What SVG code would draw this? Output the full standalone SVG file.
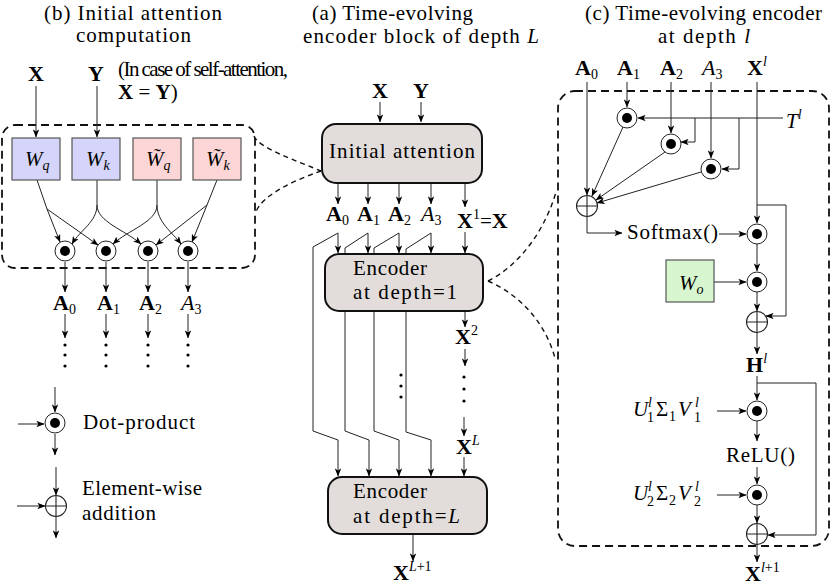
<svg xmlns="http://www.w3.org/2000/svg" width="831" height="586" viewBox="0 0 831 586">
<style>
text{font-family:"Liberation Serif","Times New Roman",serif;fill:#000;font-size:21px}
.bf{font-weight:bold;font-size:22px}
.it{font-style:italic}
.sm{font-size:14px}
.ln{fill:none;stroke:#222;stroke-width:1}
.ar{marker-end:url(#ah)}
.dash{fill:none;stroke:#111;stroke-width:1.8;stroke-dasharray:8 5}
.dcurve{fill:none;stroke:#111;stroke-width:1.4;stroke-dasharray:5 4}
.blk{fill:#e2dddb;stroke:#111;stroke-width:2}
.wbox{stroke:#555;stroke-width:1.2}
</style>
<defs>
<marker id="ah" viewBox="0 0 10 8" refX="9.5" refY="4" markerWidth="8" markerHeight="6.4" markerUnits="userSpaceOnUse" orient="auto"><path d="M0,0 L10,4 L0,8 L2.5,4 z" fill="#000"/></marker>
<g id="dot"><circle r="10" fill="#fff" stroke="#222" stroke-width="1"/><circle r="5" fill="#000"/></g>
<g id="plus"><circle r="10.5" fill="#fff" stroke="#222" stroke-width="1.1"/><path d="M-10.5,0 H10.5 M0,-10.5 V10.5" stroke="#222" stroke-width="1.1"/></g>
</defs>
<rect width="831" height="586" fill="#fff"/>

<!-- titles -->
<g id="titles">
<text x="44" y="20" textLength="178" lengthAdjust="spacing">(b) Initial attention</text>
<text x="76" y="42" textLength="115" lengthAdjust="spacing">computation</text>
<text x="312" y="20" textLength="161" lengthAdjust="spacing">(a) Time-evolving</text>
<text x="303" y="43" textLength="236" lengthAdjust="spacing">encoder block of depth <tspan class="it">L</tspan></text>
<text x="585" y="20" textLength="237" lengthAdjust="spacing">(c) Time-evolving encoder</text>
<text x="658" y="43" textLength="92" lengthAdjust="spacing">at depth <tspan class="it">l</tspan></text>
</g>

<!-- dashed frames and zoom curves -->
<g id="frames">
<rect x="2" y="125" width="253" height="143" rx="13" class="dash"/>
<rect x="558" y="91" width="271" height="455" rx="17" class="dash"/>
<path class="dcurve" d="M254,136 C258,148 300,162 321,171"/>
<path class="dcurve" d="M321,171 C295,180 262,195 256,212"/>
<path class="dcurve" d="M488,281 C520,265 545,230 556,192"/>
<path class="dcurve" d="M488,281 C520,295 545,322 555,358"/>
</g>

<!-- connectors -->
<g id="connectors">
<!-- panel b -->
<path class="ln ar" d="M36,86 L36,137"/>
<path class="ln ar" d="M97,86 L97,137"/>
<path class="ln" d="M37,180 L47,209"/>
<path class="ln ar" d="M47,209 L60,242"/>
<path class="ln ar" d="M47,209 L98,245"/>
<path class="ln" d="M97,180 L97,205"/>
<path class="ln ar" d="M97,205 C97,222 80,230 72,244"/>
<path class="ln ar" d="M97,205 C97,222 125,230 141,244"/>
<path class="ln" d="M157,180 L157,205"/>
<path class="ln ar" d="M157,205 C157,222 128,230 113,244"/>
<path class="ln ar" d="M157,205 C157,222 172,232 181,244"/>
<path class="ln" d="M217,180 L207,205"/>
<path class="ln ar" d="M207,205 L192,242"/>
<path class="ln ar" d="M207,205 L156,245"/>
<path class="ln ar" d="M65,262 L65,292"/>
<path class="ln ar" d="M106,262 L106,292"/>
<path class="ln ar" d="M148,262 L148,292"/>
<path class="ln ar" d="M188,262 L188,292"/>
<path class="ln ar" d="M65,314 L65,338"/>
<path class="ln ar" d="M106,314 L106,338"/>
<path class="ln ar" d="M148,314 L148,338"/>
<path class="ln ar" d="M188,314 L188,338"/>
<!-- legend -->
<path class="ln ar" d="M55,387 L55,412"/>
<path class="ln ar" d="M18,424 L44,424"/>
<path class="ln ar" d="M55,434 L55,455"/>
<path class="ln ar" d="M56,467 L56,495"/>
<path class="ln ar" d="M17,506 L45,506"/>
<path class="ln ar" d="M56,517 L56,538"/>
<!-- panel a -->
<path class="ln ar" d="M380,102 L380,122"/>
<path class="ln ar" d="M421,102 L421,122"/>
<path class="ln ar" d="M338,183 L338,204"/>
<path class="ln ar" d="M368,183 L368,204"/>
<path class="ln ar" d="M399,183 L399,204"/>
<path class="ln ar" d="M431,183 L431,204"/>
<path class="ln ar" d="M465,183 L465,207"/>
<path class="ln ar" d="M338,233 L338,253"/>
<path class="ln ar" d="M368,233 L368,253"/>
<path class="ln ar" d="M399,233 L399,253"/>
<path class="ln ar" d="M431,233 L431,253"/>
<path class="ln ar" d="M465,232 L465,253"/>
<path class="ln ar" d="M338,233 L313,247 L313,431 L338,440 L338,476"/>
<path class="ln ar" d="M368,233 L345,248 L345,431 L369,440 L369,476"/>
<path class="ln ar" d="M399,233 L374,248 L374,431 L399,440 L399,476"/>
<path class="ln ar" d="M431,233 L406,249 L406,432 L431,440 L431,476"/>
<path class="ln ar" d="M465,311 L465,327"/>
<path class="ln ar" d="M465,349 L465,366"/>
<path class="ln ar" d="M464,417 L464,436"/>
<path class="ln ar" d="M464,457 L464,476"/>
<path class="ln ar" d="M413,534 L413,561"/>
<!-- panel c -->
<path class="ln ar" d="M587,82 L587,195"/>
<path class="ln ar" d="M627,82 L627,107"/>
<path class="ln ar" d="M671,82 L671,133"/>
<path class="ln ar" d="M711,82 L711,158"/>
<path class="ln ar" d="M757,82 L757,223"/>
<path class="ln ar" d="M757,205 L786,205 L786,316 L766,316"/>
<path class="ln ar" d="M783,118 L638,118"/>
<path class="ln ar" d="M695,118 L695,142 L681,142"/>
<path class="ln ar" d="M739,118 L739,169 L722,169"/>
<path class="ln ar" d="M623,127 L592,196"/>
<path class="ln ar" d="M665,152 L596,200"/>
<path class="ln ar" d="M701,172 L597,203"/>
<path class="ln ar" d="M587,217 L587,233 L622,233"/>
<path class="ln ar" d="M719,234 L746,234"/>
<path class="ln ar" d="M757,244 L757,271"/>
<path class="ln ar" d="M714,282 L746,282"/>
<path class="ln ar" d="M757,292 L757,311"/>
<path class="ln ar" d="M757,333 L757,354"/>
<path class="ln ar" d="M757,376 L757,400"/>
<path class="ln ar" d="M757,383 L816,383 L816,535 L768,535"/>
<path class="ln ar" d="M717,411 L746,411"/>
<path class="ln ar" d="M757,421 L757,441"/>
<path class="ln ar" d="M757,467 L757,484"/>
<path class="ln ar" d="M717,495 L746,495"/>
<path class="ln ar" d="M757,505 L757,523"/>
<path class="ln ar" d="M757,545 L757,562"/>
</g>

<!-- panel b nodes -->
<g id="b-inputs">
<text x="28" y="81" class="bf">X</text>
<text x="88" y="81" class="bf">Y</text>
<text x="118" y="76" font-size="15" textLength="170" lengthAdjust="spacing">(In case of self-attention,</text>
<text x="118" y="99" font-size="15"><tspan font-weight="bold">X</tspan> = <tspan font-weight="bold">Y</tspan>)</text>
</g>
<g id="node-Wq"><rect x="12" y="138" width="48" height="42" fill="#d5d5fb" class="wbox"/><text x="25" y="166" font-size="22"><tspan class="it">W</tspan><tspan class="sm it" dy="4">q</tspan></text></g>
<g id="node-Wk"><rect x="72" y="138" width="48" height="42" fill="#d5d5fb" class="wbox"/><text x="86" y="166" font-size="22"><tspan class="it">W</tspan><tspan class="sm it" dy="4">k</tspan></text></g>
<g id="node-Wtq"><rect x="133" y="138" width="48" height="42" fill="#fcd6d6" class="wbox"/><text x="146" y="166" font-size="22"><tspan class="it">W&#x303;</tspan><tspan class="sm it" dy="4">q</tspan></text></g>
<g id="node-Wtk"><rect x="193" y="138" width="48" height="42" fill="#fcd6d6" class="wbox"/><text x="206" y="166" font-size="22"><tspan class="it">W&#x303;</tspan><tspan class="sm it" dy="4">k</tspan></text></g>
<g id="b-dots">
<use href="#dot" x="65" y="251"/><use href="#dot" x="106" y="251"/><use href="#dot" x="148" y="251"/><use href="#dot" x="188" y="251"/>
</g>
<g id="b-outputs">
<text x="53" y="310"><tspan class="bf">A</tspan><tspan class="sm" dy="4">0</tspan></text>
<text x="97" y="310"><tspan class="bf">A</tspan><tspan class="sm" dy="4">1</tspan></text>
<text x="139" y="310"><tspan class="bf">A</tspan><tspan class="sm" dy="4">2</tspan></text>
<text x="181" y="310"><tspan class="it" font-size="22">A</tspan><tspan class="sm" dy="4">3</tspan></text>
<g fill="#000"><circle cx="65" cy="345" r="1.6"/><circle cx="65" cy="355" r="1.6"/><circle cx="65" cy="366" r="1.6"/>
<circle cx="106" cy="345" r="1.6"/><circle cx="106" cy="355" r="1.6"/><circle cx="106" cy="366" r="1.6"/>
<circle cx="148" cy="345" r="1.6"/><circle cx="148" cy="355" r="1.6"/><circle cx="148" cy="366" r="1.6"/>
<circle cx="188" cy="345" r="1.6"/><circle cx="188" cy="355" r="1.6"/><circle cx="188" cy="366" r="1.6"/></g>
</g>
<g id="legend">
<use href="#dot" x="55" y="423"/>
<text x="83" y="429" textLength="112" lengthAdjust="spacing">Dot-product</text>
<use href="#plus" x="56" y="506"/>
<text x="82" y="495" textLength="120" lengthAdjust="spacing">Element-wise</text>
<text x="82" y="520" textLength="74" lengthAdjust="spacing">addition</text>
</g>

<!-- panel a nodes -->
<g id="a-inputs"><text x="372" y="98" class="bf">X</text><text x="413" y="98" class="bf">Y</text></g>
<g id="node-init"><rect x="322" y="124" width="160" height="59" rx="14" class="blk"/><text x="329" y="158" font-size="22" textLength="146" lengthAdjust="spacing">Initial attention</text></g>
<g id="a-labels">
<text x="326" y="221"><tspan class="bf">A</tspan><tspan class="sm" dy="4">0</tspan></text>
<text x="357" y="221"><tspan class="bf">A</tspan><tspan class="sm" dy="4">1</tspan></text>
<text x="388" y="221"><tspan class="bf">A</tspan><tspan class="sm" dy="4">2</tspan></text>
<text x="421" y="221"><tspan class="it" font-size="22">A</tspan><tspan class="sm" dy="4">3</tspan></text>
<text x="457" y="228"><tspan class="bf">X</tspan><tspan class="sm" dy="-9">1</tspan><tspan dy="9">=</tspan><tspan class="bf">X</tspan></text>
</g>
<g id="node-enc1"><rect x="325" y="254" width="158" height="57" rx="14" class="blk"/><text x="353" y="275" font-size="22" textLength="74" lengthAdjust="spacing">Encoder</text><text x="353" y="299" font-size="22" textLength="104" lengthAdjust="spacing">at depth=1</text></g>
<g id="a-mid">
<text x="455" y="344"><tspan class="bf">X</tspan><tspan class="sm" dy="-9">2</tspan></text>
<g fill="#000"><circle cx="464" cy="377" r="1.6"/><circle cx="464" cy="389" r="1.6"/><circle cx="464" cy="401" r="1.6"/>
<circle cx="401" cy="375" r="1.6"/><circle cx="401" cy="386" r="1.6"/><circle cx="401" cy="397" r="1.6"/></g>
<text x="456" y="454"><tspan class="bf">X</tspan><tspan class="sm it" dy="-9">L</tspan></text>
</g>
<g id="node-encL"><rect x="328" y="477" width="159" height="57" rx="14" class="blk"/><text x="353" y="498" font-size="22" textLength="74" lengthAdjust="spacing">Encoder</text><text x="353" y="523" font-size="22" textLength="107" lengthAdjust="spacing">at depth=<tspan class="it">L</tspan></text></g>
<g id="a-out"><text x="393" y="580"><tspan class="bf">X</tspan><tspan class="sm" dy="-9"><tspan class="it">L</tspan>+1</tspan></text></g>

<!-- panel c nodes -->
<g id="c-inputs">
<text x="575" y="75"><tspan class="bf">A</tspan><tspan class="sm" dy="4">0</tspan></text>
<text x="617" y="75"><tspan class="bf">A</tspan><tspan class="sm" dy="4">1</tspan></text>
<text x="660" y="75"><tspan class="bf">A</tspan><tspan class="sm" dy="4">2</tspan></text>
<text x="702" y="75"><tspan class="it" font-size="22">A</tspan><tspan class="sm" dy="4">3</tspan></text>
<text x="747" y="75"><tspan class="bf">X</tspan><tspan class="sm it" dy="-9">l</tspan></text>
<text x="786" y="128" font-size="22"><tspan class="it">T</tspan><tspan class="sm it" dy="-9">l</tspan></text>
</g>
<g id="c-dotA1"><use href="#dot" x="627" y="118"/></g>
<g id="c-dotA2"><use href="#dot" x="671" y="144"/></g>
<g id="c-dotA3"><use href="#dot" x="711" y="169"/></g>
<g id="c-plus1"><use href="#plus" x="587" y="206"/></g>
<g id="c-softmax"><text x="627" y="239" textLength="91" lengthAdjust="spacing">Softmax()</text></g>
<g id="c-dot1"><use href="#dot" x="757" y="234"/></g>
<g id="node-Wo"><rect x="666" y="260" width="48" height="42" fill="#d7f5ce" class="wbox"/><text x="679" y="290" font-size="22"><tspan class="it">W</tspan><tspan class="sm it" dy="4">o</tspan></text></g>
<g id="c-dot2"><use href="#dot" x="757" y="282"/></g>
<g id="c-plus2"><use href="#plus" x="757" y="322"/></g>
<g id="c-H"><text x="746" y="372"><tspan class="bf">H</tspan><tspan class="sm it" dy="-9">l</tspan></text></g>
<g id="c-U1"><text y="416" font-size="21"><tspan x="633" class="it">U</tspan><tspan x="648" y="407" class="sm it">l</tspan><tspan x="647" y="422" class="sm">1</tspan><tspan x="656" y="416">Σ</tspan><tspan x="669" y="421" class="sm">1</tspan><tspan x="678" y="416" class="it">V</tspan><tspan x="695" y="407" class="sm it">l</tspan><tspan x="694" y="422" class="sm">1</tspan></text></g>
<g id="c-dot3"><use href="#dot" x="757" y="411"/></g>
<g id="c-relu"><text x="726" y="462" textLength="69" lengthAdjust="spacing">ReLU()</text></g>
<g id="c-U2"><text y="500" font-size="21"><tspan x="633" class="it">U</tspan><tspan x="648" y="491" class="sm it">l</tspan><tspan x="647" y="506" class="sm">2</tspan><tspan x="656" y="500">Σ</tspan><tspan x="669" y="505" class="sm">2</tspan><tspan x="678" y="500" class="it">V</tspan><tspan x="695" y="491" class="sm it">l</tspan><tspan x="694" y="506" class="sm">2</tspan></text></g>
<g id="c-dot4"><use href="#dot" x="757" y="495"/></g>
<g id="c-plus3"><use href="#plus" x="757" y="534"/></g>
<g id="c-out"><text x="745" y="581"><tspan class="bf">X</tspan><tspan class="sm" dy="-9"><tspan class="it">l</tspan>+1</tspan></text></g>
</svg>
